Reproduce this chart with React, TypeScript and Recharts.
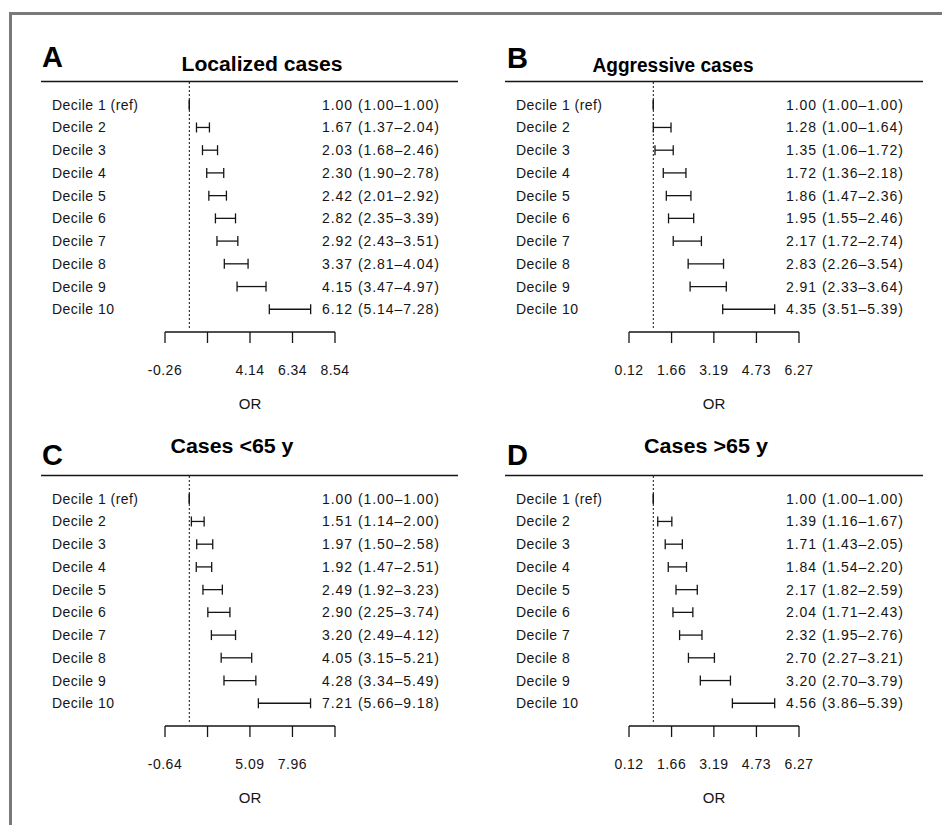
import React from "react";
import {
  ComposedChart,
  XAxis,
  YAxis,
  Scatter,
  ErrorBar,
  ReferenceLine,
} from "recharts";

const FONT = "'Liberation Sans', Arial, Helvetica, sans-serif";
const INK = "#151515";

const decileLabels = [
  "Decile 1 (ref)",
  "Decile 2",
  "Decile 3",
  "Decile 4",
  "Decile 5",
  "Decile 6",
  "Decile 7",
  "Decile 8",
  "Decile 9",
  "Decile 10",
];
const rowIndex = [1, 2, 3, 4, 5, 6, 7, 8, 9, 10];

// A: Localized cases
const localizedOR = [1.0, 1.67, 2.03, 2.3, 2.42, 2.82, 2.92, 3.37, 4.15, 6.12];
const localizedLow = [1.0, 1.37, 1.68, 1.9, 2.01, 2.35, 2.43, 2.81, 3.47, 5.14];
const localizedHigh = [1.0, 2.04, 2.46, 2.78, 2.92, 3.39, 3.51, 4.04, 4.97, 7.28];
const localizedTicks = [-0.26, 1.94, 4.14, 6.34, 8.54];
const localizedTickLabels = ["-0.26", "", "4.14", "6.34", "8.54"];

// B: Aggressive cases
const aggressiveOR = [1.0, 1.28, 1.35, 1.72, 1.86, 1.95, 2.17, 2.83, 2.91, 4.35];
const aggressiveLow = [1.0, 1.0, 1.06, 1.36, 1.47, 1.55, 1.72, 2.26, 2.33, 3.51];
const aggressiveHigh = [1.0, 1.64, 1.72, 2.18, 2.36, 2.46, 2.74, 3.54, 3.64, 5.39];
const aggressiveTicks = [0.12, 1.66, 3.19, 4.73, 6.27];
const aggressiveTickLabels = ["0.12", "1.66", "3.19", "4.73", "6.27"];

// C: Cases <65 y
const under65OR = [1.0, 1.51, 1.97, 1.92, 2.49, 2.9, 3.2, 4.05, 4.28, 7.21];
const under65Low = [1.0, 1.14, 1.5, 1.47, 1.92, 2.25, 2.49, 3.15, 3.34, 5.66];
const under65High = [1.0, 2.0, 2.58, 2.51, 3.23, 3.74, 4.12, 5.21, 5.49, 9.18];
const under65Ticks = [-0.64, 2.23, 5.09, 7.96, 10.83];
const under65TickLabels = ["-0.64", "", "5.09", "7.96", ""];

// D: Cases >65 y
const over65OR = [1.0, 1.39, 1.71, 1.84, 2.17, 2.04, 2.32, 2.7, 3.2, 4.56];
const over65Low = [1.0, 1.16, 1.43, 1.54, 1.82, 1.71, 1.95, 2.27, 2.7, 3.86];
const over65High = [1.0, 1.67, 2.05, 2.2, 2.59, 2.43, 2.76, 3.21, 3.79, 5.39];
const over65Ticks = [0.12, 1.66, 3.19, 4.73, 6.27];
const over65TickLabels = ["0.12", "1.66", "3.19", "4.73", "6.27"];

type PanelCfg = {
  or: number[];
  low: number[];
  high: number[];
  ticks: number[];
  tickLabels: string[];
};

const panels: { cfg: PanelCfg; left: number; top: number }[] = [
  { cfg: { or: localizedOR, low: localizedLow, high: localizedHigh, ticks: localizedTicks, tickLabels: localizedTickLabels }, left: 40, top: 0 },
  { cfg: { or: aggressiveOR, low: aggressiveLow, high: aggressiveHigh, ticks: aggressiveTicks, tickLabels: aggressiveTickLabels }, left: 504, top: 0 },
  { cfg: { or: under65OR, low: under65Low, high: under65High, ticks: under65Ticks, tickLabels: under65TickLabels }, left: 40, top: 394 },
  { cfg: { or: over65OR, low: over65Low, high: over65High, ticks: over65Ticks, tickLabels: over65TickLabels }, left: 504, top: 394 },
];

const fmt = (v: number) => v.toFixed(2);

function Panel({ cfg, left, top }: { cfg: PanelCfg; left: number; top: number }) {
  const data = cfg.or.map((v, i) => ({
    row: rowIndex[i],
    or: v,
    err: [v - cfg.low[i], cfg.high[i] - v],
    label: decileLabels[i],
    text: `${fmt(v)} (${fmt(cfg.low[i])}\u2013${fmt(cfg.high[i])})`,
  }));

  const leftTick = (p: any) => {
    const d = data[p.index];
    return (
      <text x={p.x - 113} y={p.y} dy={5} textAnchor="start" fontFamily={FONT} fontSize={14} letterSpacing={0.45} fill={INK}>
        {d ? d.label : ""}
      </text>
    );
  };
  const rightTick = (p: any) => {
    const d = data[p.index];
    return (
      <text x={p.x + 104} y={p.y} dy={5} textAnchor="end" fontFamily={FONT} fontSize={14} textLength={117} lengthAdjust="spacing" fill={INK}>
        {d ? d.text : ""}
      </text>
    );
  };
  const xTick = (p: any) => (
    <text x={p.x} y={p.y} dy="0.71em" textAnchor="middle" fontFamily={FONT} fontSize={14} letterSpacing={0.5} fill={INK}>
      {cfg.tickLabels[p.index] ?? ""}
    </text>
  );

  return (
    <div style={{ position: "absolute", left, top }}>
      <ComposedChart width={420} height={420} data={data} margin={{ top: 82, right: 0, bottom: 8, left: 0 }}>
        <XAxis
          type="number"
          dataKey="or"
          domain={[cfg.ticks[0], cfg.ticks[cfg.ticks.length - 1]]}
          ticks={cfg.ticks}
          interval={0}
          allowDataOverflow
          height={80}
          tickSize={11}
          tickMargin={22}
          axisLine={{ stroke: INK, strokeWidth: 1.3 }}
          tickLine={{ stroke: INK, strokeWidth: 1.3 }}
          tick={xTick}
          label={{ value: "OR", position: "insideBottom", offset: 3, fill: INK, fontSize: 15, fontFamily: FONT }}
        />
        <YAxis
          yAxisId="l"
          type="number"
          dataKey="row"
          domain={[0, 11]}
          reversed
          ticks={rowIndex}
          interval={0}
          width={125}
          axisLine={false}
          tickLine={false}
          tickSize={0}
          tickMargin={0}
          allowDataOverflow
          tick={leftTick}
        />
        <YAxis
          yAxisId="r"
          orientation="right"
          type="number"
          dataKey="row"
          domain={[0, 11]}
          reversed
          ticks={rowIndex}
          interval={0}
          width={125}
          axisLine={false}
          tickLine={false}
          tickSize={0}
          tickMargin={0}
          allowDataOverflow
          tick={rightTick}
        />
        <ReferenceLine
          yAxisId="l"
          segment={[{ x: 1, y: 0 }, { x: 1, y: 10.85 }]}
          stroke={INK}
          strokeWidth={1}
          strokeDasharray="2 2"
          ifOverflow="visible"
        />
        <Scatter yAxisId="l" dataKey="row" isAnimationActive={false} shape={() => <g />}>
          <ErrorBar dataKey="err" direction="x" width={5} stroke={INK} strokeWidth={1.3} isAnimationActive={false} />
        </Scatter>
      </ComposedChart>
    </div>
  );
}

const panelLetters = ["A", "B", "C", "D"];
const panelTitles = ["Localized cases", "Aggressive cases", "Cases <65 y", "Cases >65 y"];
const titleWidths = [161, 161, 123, 124];

export default function App() {
  const letterPos = [
    { x: 42, y: 67 },
    { x: 507, y: 68 },
    { x: 42, y: 465 },
    { x: 507, y: 465 },
  ];
  const titlePos = [
    { x: 262, y: 71 },
    { x: 673, y: 72 },
    { x: 232, y: 453 },
    { x: 706, y: 453 },
  ];
  const headerLines = [
    { x1: 41, x2: 458, y: 81.5 },
    { x1: 505, x2: 923, y: 81.5 },
    { x1: 41, x2: 458, y: 475.5 },
    { x1: 505, x2: 923, y: 475.5 },
  ];
  return (
    <div style={{ position: "absolute", left: 0, top: 0, width: 942, height: 825, background: "#fff", overflow: "hidden" }}>
      {panels.map((p, i) => (
        <Panel key={i} cfg={p.cfg} left={p.left} top={p.top} />
      ))}
      <svg width={942} height={825} style={{ position: "absolute", left: 0, top: 0, pointerEvents: "none" }}>
        <line x1={10.5} y1={12} x2={10.5} y2={825} stroke="#7a7a7a" strokeWidth={3} />
        <line x1={9} y1={13.5} x2={942} y2={13.5} stroke="#7a7a7a" strokeWidth={3} />
        {headerLines.map((h, i) => (
          <line key={i} x1={h.x1} x2={h.x2} y1={h.y} y2={h.y} stroke={INK} strokeWidth={1.4} />
        ))}
        {panelLetters.map((l, i) => (
          <text key={l} x={letterPos[i].x} y={letterPos[i].y} fontFamily={FONT} fontWeight="bold" fontSize={29} fill="#000">
            {l}
          </text>
        ))}
        {panelTitles.map((t, i) => (
          <text
            key={t}
            x={titlePos[i].x}
            y={titlePos[i].y}
            textAnchor="middle"
            fontFamily={FONT}
            fontWeight="bold"
            fontSize={20}
            textLength={titleWidths[i]}
            lengthAdjust="spacingAndGlyphs"
            fill="#000"
          >
            {t}
          </text>
        ))}
      </svg>
    </div>
  );
}
